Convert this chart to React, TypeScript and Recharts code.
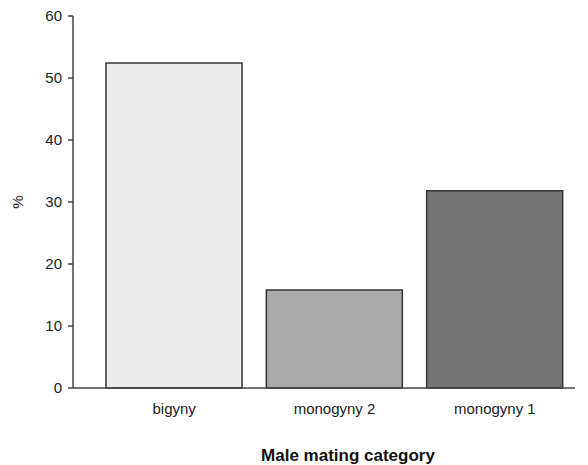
import React from "react";
import { BarChart, Bar, XAxis, YAxis, Cell } from "recharts";

const categories = ["bigyny", "monogyny 2", "monogyny 1"];
const percents = [52.4, 15.8, 31.8];
const fills = ["#ececec", "#aaaaaa", "#767676"];
const yTicks = [0, 10, 20, 30, 40, 50, 60];

const data = categories.map((c, i) => ({ category: c, value: percents[i] }));

const font = "'Liberation Sans', Arial, sans-serif";

export default function App() {
  return (
    <div style={{ position: "absolute", left: 0, top: 0, background: "#fff" }}>
      <BarChart
        width={588}
        height={465}
        data={data}
        margin={{ top: 16, right: 13, bottom: 0, left: 0 }}
        barCategoryGap={12}
      >
        <XAxis
          dataKey="category"
          height={77}
          padding={{ left: 21, right: 0 }}
          tickLine={false}
          tickSize={6}
          tickMargin={9}
          axisLine={{ stroke: "#444", strokeWidth: 1.5 }}
          tick={{ fill: "#222", fontSize: 15, fontFamily: font }}
          label={{
            value: "Male mating category",
            position: "insideBottom",
            offset: 4,
            dx: 24,
            style: { fill: "#111", fontSize: 17, fontWeight: "bold", fontFamily: font },
          }}
        />
        <YAxis
          width={73}
          domain={[0, 60]}
          ticks={yTicks}
          interval={0}
          tickSize={5}
          tickMargin={6}
          axisLine={{ stroke: "#444", strokeWidth: 1.5 }}
          tickLine={{ stroke: "#444", strokeWidth: 1.5 }}
          tick={{ fill: "#222", fontSize: 15, fontFamily: font }}
          label={{
            value: "%",
            angle: -90,
            position: "insideLeft",
            offset: 18,
            style: { fill: "#222", fontSize: 15, fontFamily: font, textAnchor: "middle" },
          }}
        />
        <Bar dataKey="value" stroke="#333" strokeWidth={1.5} isAnimationActive={false}>
          {data.map((d, i) => (
            <Cell key={d.category} fill={fills[i]} />
          ))}
        </Bar>
      </BarChart>
    </div>
  );
}
